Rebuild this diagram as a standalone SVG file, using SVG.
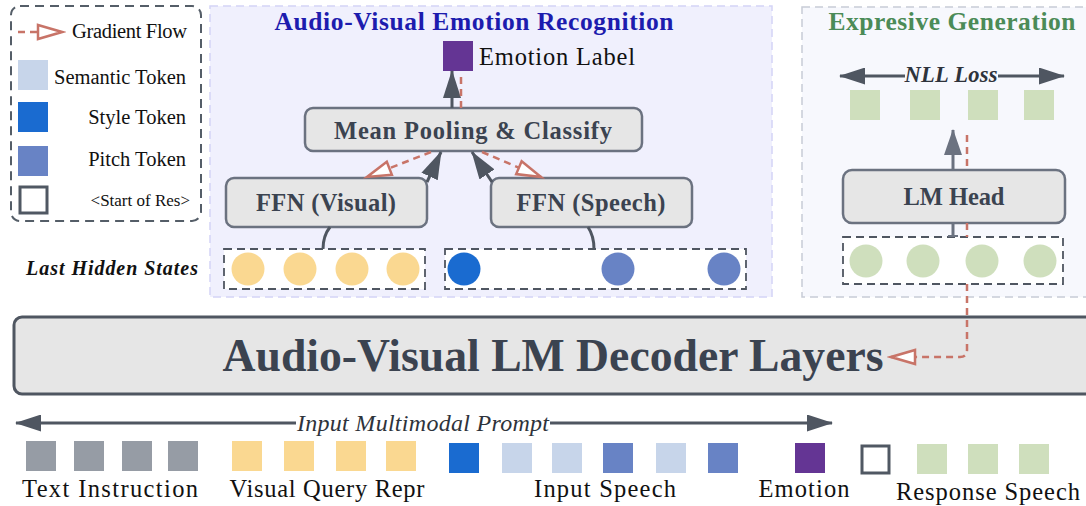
<svg xmlns="http://www.w3.org/2000/svg" width="1086" height="506" viewBox="0 0 1086 506">
<style>
text{font-family:"Liberation Serif","DejaVu Serif",serif;}
.lg{font-size:20.5px;fill:#111;}
.bl{font-size:24.5px;fill:#111;}
.bx{fill:#e6e6e6;stroke:#6b7280;stroke-width:2.5;}
.bt{font-size:24.5px;font-weight:bold;fill:#3b4350;text-anchor:middle;}
.dash{fill:#fff;stroke:#4f5661;stroke-width:1.8;stroke-dasharray:8 5;}
.gl{fill:none;stroke:#4f5661;stroke-width:3;}
.rd{fill:none;stroke:#c87468;stroke-width:2.5;stroke-dasharray:7 5;}
.sem{fill:#c7d5ea;}.sty{fill:#1a6bd0;}.pit{fill:#6883c5;}.vis{fill:#fad891;}.txt{fill:#969ca5;}.grn{fill:#cfdfbd;}.emo{fill:#643594;}
</style>
<defs>
<marker id="ga" markerUnits="userSpaceOnUse" markerWidth="28" markerHeight="18" refX="27" refY="9" orient="auto">
<path d="M0,0 L28,9 L0,18 z" fill="#4f5661"/>
</marker>
<marker id="ga2" markerUnits="userSpaceOnUse" markerWidth="26" markerHeight="18" refX="25" refY="9" orient="auto">
<path d="M0,0 L26,9 L0,18 z" fill="#6b7280"/>
</marker>
<marker id="gs" markerUnits="userSpaceOnUse" markerWidth="26" markerHeight="17" refX="25" refY="8.5" orient="auto-start-reverse">
<path d="M0,0 L26,8.5 L0,17 z" fill="#4f5661"/>
</marker>
<marker id="ra" markerUnits="userSpaceOnUse" markerWidth="30" markerHeight="20" refX="26" refY="10" orient="auto">
<path d="M2,3 L26,10 L2,17 z" fill="#fff" stroke="#c87468" stroke-width="2.5"/>
</marker>
</defs>

<!-- Legend -->
<g id="legend">
<rect x="11" y="6" width="190" height="215" rx="9" fill="none" stroke="#555e68" stroke-width="2" stroke-dasharray="9 6"/>
<line x1="18" y1="32" x2="62" y2="32" class="rd" marker-end="url(#ra)"/>
<text x="72" y="38" class="lg" textLength="115">Gradient Flow</text>
<rect x="18" y="60" width="30" height="30" class="sem"/>
<text x="186" y="84" class="lg" text-anchor="end">Semantic Token</text>
<rect x="18" y="102" width="30" height="30" class="sty"/>
<text x="186" y="124" class="lg" text-anchor="end">Style Token</text>
<rect x="18" y="146" width="30" height="30" class="pit"/>
<text x="186" y="166" class="lg" text-anchor="end">Pitch Token</text>
<rect x="20" y="187" width="27" height="26" fill="#fff" stroke="#505863" stroke-width="3"/>
<text x="190" y="206" class="lg" text-anchor="end" style="font-size:17px">&lt;Start of Res&gt;</text>
</g>

<!-- AVER panel -->
<g id="aver-panel">
<rect x="210" y="6" width="562" height="291" fill="#f0f0fd" stroke="#d4d4f6" stroke-width="1.5" stroke-dasharray="8 5"/>
<text x="474" y="30" text-anchor="middle" style="font-size:25.5px;font-weight:bold;fill:#1d1cae" textLength="399">Audio-Visual Emotion Recognition</text>
</g>
<g id="emotion-label">
<rect x="443" y="41" width="30" height="30" class="emo"/>
<text x="479" y="65" class="bl" textLength="156">Emotion Label</text>
</g>
<g id="mean-pooling">
<rect x="305" y="108" width="337" height="43" rx="8" class="bx"/>
<text x="473" y="139" class="bt" textLength="278">Mean Pooling &amp; Classify</text>
</g>
<g id="ffn-visual">
<rect x="226" y="178" width="201" height="49" rx="8" class="bx"/>
<text x="326" y="211" class="bt" textLength="140">FFN (Visual)</text>
</g>
<g id="ffn-speech">
<rect x="491" y="178" width="201" height="49" rx="8" class="bx"/>
<text x="591" y="211" class="bt" textLength="149">FFN (Speech)</text>
</g>
<g id="last-hidden-label">
<text x="26" y="275" style="font-size:20px;font-weight:bold;font-style:italic;fill:#111" textLength="172">Last Hidden States</text>
</g>
<g id="visual-hidden">
<rect x="224" y="249" width="201" height="40" class="dash"/>
<circle cx="248" cy="269" r="16.5" class="vis"/>
<circle cx="300" cy="269" r="16.5" class="vis"/>
<circle cx="352" cy="269" r="16.5" class="vis"/>
<circle cx="403" cy="269" r="16.5" class="vis"/>
</g>
<g id="speech-hidden">
<rect x="445" y="249" width="301" height="40" class="dash"/>
<circle cx="464" cy="269" r="16.5" class="sty"/>
<circle cx="618" cy="269" r="16.5" class="pit"/>
<circle cx="724" cy="269" r="16.5" class="pit"/>
</g>

<!-- EG panel -->
<g id="eg-panel">
<rect x="802" y="7" width="292" height="290" fill="#f7f8fd" stroke="#c8ccd6" stroke-width="1.5" stroke-dasharray="8 5"/>
<text x="952" y="30" text-anchor="middle" style="font-size:25.5px;font-weight:bold;fill:#4b8b57" textLength="247">Expresive Generation</text>
</g>
<g id="nll-loss">
<text x="951" y="82" text-anchor="middle" style="font-size:22.5px;font-weight:bold;font-style:italic;fill:#2e333b" textLength="93">NLL Loss</text>
</g>
<g id="response-tokens">
<rect x="850" y="90" width="30" height="30" class="grn"/>
<rect x="910" y="90" width="30" height="30" class="grn"/>
<rect x="968" y="90" width="30" height="30" class="grn"/>
<rect x="1024" y="90" width="30" height="30" class="grn"/>
</g>
<g id="lm-head">
<rect x="843" y="170" width="222" height="53" rx="9" class="bx"/>
<text x="954" y="205" class="bt" textLength="101">LM Head</text>
</g>
<g id="response-hidden">
<rect x="843" y="237" width="220" height="47" class="dash"/>
<circle cx="866" cy="261" r="16.5" class="grn"/>
<circle cx="923" cy="261" r="16.5" class="grn"/>
<circle cx="982" cy="261" r="16.5" class="grn"/>
<circle cx="1040" cy="261" r="16.5" class="grn"/>
</g>

<!-- Decoder -->
<g id="decoder">
<rect x="14" y="317" width="1080" height="77" rx="8" fill="#e6e6e6" stroke="#4f5661" stroke-width="3"/>
<text x="553" y="371" text-anchor="middle" style="font-size:46px;font-weight:bold;fill:#3b4350" textLength="661" lengthAdjust="spacingAndGlyphs">Audio-Visual LM Decoder Layers</text>
</g>

<!-- Input prompt -->
<g id="input-prompt">
<text x="423" y="431" text-anchor="middle" style="font-size:24px;font-style:italic;fill:#2e333b" textLength="252">Input Multimodal Prompt</text>
</g>
<g id="text-instruction">
<rect x="26" y="441" width="30" height="30" class="txt"/>
<rect x="74" y="441" width="30" height="30" class="txt"/>
<rect x="122" y="441" width="30" height="30" class="txt"/>
<rect x="168" y="441" width="30" height="30" class="txt"/>
<text x="110" y="497" class="bl" text-anchor="middle" textLength="176">Text Instruction</text>
</g>
<g id="visual-query">
<rect x="232" y="441" width="30" height="30" class="vis"/>
<rect x="284" y="441" width="30" height="30" class="vis"/>
<rect x="336" y="441" width="30" height="30" class="vis"/>
<rect x="386" y="441" width="30" height="30" class="vis"/>
<text x="327" y="497" class="bl" text-anchor="middle" textLength="195">Visual Query Repr</text>
</g>
<g id="input-speech">
<rect x="449" y="443" width="30" height="30" class="sty"/>
<rect x="502" y="443" width="30" height="30" class="sem"/>
<rect x="552" y="443" width="30" height="30" class="sem"/>
<rect x="603" y="443" width="30" height="30" class="pit"/>
<rect x="656" y="443" width="30" height="30" class="sem"/>
<rect x="708" y="443" width="30" height="30" class="pit"/>
<text x="605" y="497" class="bl" text-anchor="middle" textLength="142">Input Speech</text>
</g>
<g id="emotion">
<rect x="795" y="443" width="30" height="30" class="emo"/>
<text x="804" y="497" class="bl" text-anchor="middle" textLength="91">Emotion</text>
</g>
<g id="start-of-res">
<rect x="862" y="446" width="27" height="27" fill="#fff" stroke="#505863" stroke-width="3"/>
</g>
<g id="response-speech">
<rect x="917" y="444" width="30" height="30" class="grn"/>
<rect x="968" y="444" width="30" height="30" class="grn"/>
<rect x="1019" y="444" width="30" height="30" class="grn"/>
<text x="988" y="500" class="bl" text-anchor="middle" textLength="184">Response Speech</text>
</g>

<!-- Connectors -->
<g id="connectors">
<line x1="452" y1="108" x2="452" y2="71" class="gl" marker-end="url(#ga)"/>
<line x1="461" y1="108" x2="461" y2="72" class="rd"/>
<path d="M427,182 L441,152" class="gl" marker-end="url(#ga)"/>
<path d="M492,182 L472,152" class="gl" marker-end="url(#ga)"/>
<path d="M431,152 L367,177" class="rd" marker-end="url(#ra)"/>
<path d="M482,152 L541,177" class="rd" marker-end="url(#ra)"/>
<path d="M330,227 Q323,236 323,249" class="gl"/>
<path d="M588,227 Q594,236 594,249" class="gl"/>
<line x1="953" y1="170" x2="953" y2="130" stroke="#6b7280" stroke-width="3" marker-end="url(#ga2)"/>
<line x1="967" y1="135" x2="967" y2="170" class="rd"/>
<line x1="953" y1="223" x2="953" y2="237" stroke="#6b7280" stroke-width="3"/>
<line x1="948" y1="236" x2="958" y2="236" stroke="#6b7280" stroke-width="2"/>
<path d="M967,223 L967,237" class="rd"/>
<path d="M967,284 L967,350 Q967,357 960,357 L891,357" class="rd" marker-end="url(#ra)"/>
<path d="M905,76 L840,76" stroke="#4f5661" stroke-width="3" fill="none" marker-end="url(#gs)"/>
<path d="M998,76 L1064,76" stroke="#4f5661" stroke-width="3" fill="none" marker-end="url(#gs)"/>
<path d="M296,423 L16,423" stroke="#4f5661" stroke-width="3" fill="none" marker-end="url(#gs)"/>
<path d="M550,423 L832,423" stroke="#4f5661" stroke-width="3" fill="none" marker-end="url(#gs)"/>
</g>
</svg>
